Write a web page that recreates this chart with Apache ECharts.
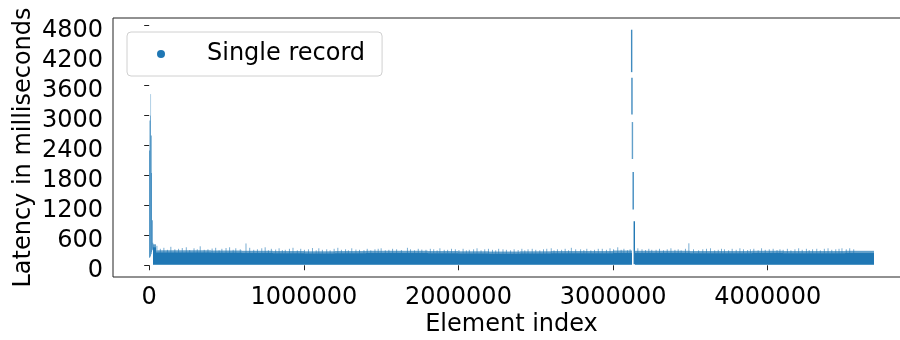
<!DOCTYPE html>
<html>
<head>
<meta charset="utf-8">
<script src="https://cdn.jsdelivr.net/npm/echarts@6/dist/echarts.min.js"></script>
<style>
  html, body { margin: 0; padding: 0; background: #ffffff; }
  #chart { width: 900px; height: 340px; }
</style>
</head>
<body>
<div id="chart"></div>
<script>
// Tick labels
const xTicks = [0, 1000000, 2000000, 3000000, 4000000];
const yTicks = [0, 600, 1200, 1800, 2400, 3000, 3600, 4200, 4800];

// Warm-up burst at the very start of the run (element index ranges, latency range in ms)
const warmStart = [0, 3000, 7000, 11000, 14000, 18000, 22000];
const warmEnd   = [3000, 7000, 11000, 14000, 18000, 22000, 26000];
const warmLow   = [150, 160, 180, 220, 260, 300, 330];
const warmHigh  = [2300, 2900, 3000, 2600, 1850, 900, 450];

// Sparse slow records above the warm-up peak
const warmSparseX    = [9000];
const warmSparseLow  = [3000];
const warmSparseHigh = [3430];

// Steady-state body of single-record latencies (dense part)
const bandStart = [26000, 45000, 200000, 400000, 600000, 800000, 1000000, 1200000, 1400000, 1600000, 1800000, 2000000, 2200000, 2400000, 2600000, 2800000, 3000000, 3144000, 3300000, 3500000, 3700000, 3900000, 4100000, 4300000, 4500000];
const bandEnd   = [45000, 200000, 400000, 600000, 800000, 1000000, 1200000, 1400000, 1600000, 1800000, 2000000, 2200000, 2400000, 2600000, 2800000, 3000000, 3122000, 3300000, 3500000, 3700000, 3900000, 4100000, 4300000, 4500000, 4686000];
const bandLow   = [20, 20, 20, 20, 20, 20, 20, 20, 20, 20, 20, 20, 20, 20, 20, 20, 20, 20, 20, 20, 20, 20, 20, 20, 20];
const bandHigh  = [360, 255, 255, 250, 245, 240, 235, 240, 245, 245, 240, 235, 230, 235, 240, 240, 245, 245, 245, 240, 240, 245, 240, 240, 245];
// Thinner scatter just above/below the dense body
const hazeHigh  = [420, 300, 300, 295, 290, 285, 280, 285, 290, 290, 285, 280, 275, 280, 285, 285, 295, 290, 290, 285, 285, 290, 285, 285, 290];
const hazeLow   = [5, 5, 5, 5, 5, 5, 5, 5, 5, 5, 5, 5, 5, 5, 5, 5, 5, 5, 5, 5, 5, 5, 5, 5, 5];

// Occasional slow records sticking out of the body: index, base and peak latency
const fringeX = [50000, 72000, 95000, 118000, 140000, 166000, 190000, 214000, 240000, 262000, 290000, 311000, 330000, 356000, 380000, 407000, 430000, 452000, 470000, 497000, 520000, 543000, 560000, 589000, 626000, 650000, 676000, 700000, 728000, 750000, 771000, 790000, 818000, 840000, 861000, 880000, 907000, 930000, 958000, 980000, 1004000, 1030000, 1056000, 1080000, 1097000, 1120000, 1148000, 1170000, 1196000, 1220000, 1243000, 1270000, 1288000, 1310000, 1337000, 1360000, 1389000, 1410000, 1433000, 1460000, 1481000, 1500000, 1527000, 1550000, 1574000, 1600000, 1631000, 1670000, 1690000, 1716000, 1740000, 1763000, 1790000, 1818000, 1840000, 1862000, 1880000, 1908000, 1930000, 1955000, 1980000, 2003000, 2030000, 2051000, 2070000, 2098000, 2120000, 2146000, 2170000, 2194000, 2220000, 2241000, 2260000, 2288000, 2310000, 2337000, 2360000, 2386000, 2410000, 2429000, 2450000, 2477000, 2500000, 2526000, 2550000, 2571000, 2600000, 2618000, 2640000, 2667000, 2690000, 2712000, 2730000, 2758000, 2790000, 2811000, 2830000, 2856000, 2880000, 2904000, 2930000, 2957000, 2980000, 3003000, 3030000, 3052000, 3070000, 3093000, 3110000, 3160000, 3187000, 3210000, 3231000, 3250000, 3278000, 3300000, 3326000, 3350000, 3374000, 3400000, 3421000, 3440000, 3468000, 3490000, 3520000, 3553000, 3580000, 3604000, 3630000, 3657000, 3680000, 3701000, 3720000, 3747000, 3770000, 3796000, 3820000, 3843000, 3870000, 3888000, 3910000, 3938000, 3960000, 3984000, 4010000, 4035000, 4060000, 4079000, 4100000, 4127000, 4150000, 4176000, 4200000, 4223000, 4250000, 4268000, 4290000, 4317000, 4340000, 4366000, 4390000, 4414000, 4440000, 4461000, 4480000, 4508000, 4530000, 4556000, 4580000, 4603000, 4640000, 4670000];
const fringeLow = [300, 250, 255, 250, 250, 245, 250, 250, 245, 250, 250, 245, 250, 245, 245, 245, 245, 245, 240, 245, 240, 245, 240, 240, 240, 240, 240, 240, 235, 235, 235, 235, 235, 235, 235, 235, 235, 230, 230, 230, 230, 230, 230, 230, 230, 230, 230, 230, 230, 230, 230, 230, 230, 235, 235, 235, 235, 235, 235, 235, 235, 235, 235, 235, 240, 240, 240, 240, 240, 240, 240, 240, 240, 240, 240, 240, 240, 240, 240, 240, 240, 235, 235, 235, 235, 235, 235, 235, 235, 235, 235, 230, 230, 230, 230, 230, 225, 225, 225, 225, 225, 225, 230, 230, 230, 230, 230, 230, 230, 230, 235, 235, 235, 235, 235, 235, 235, 235, 235, 235, 235, 235, 235, 235, 240, 240, 240, 240, 240, 240, 240, 240, 240, 240, 240, 240, 240, 240, 240, 240, 240, 240, 240, 240, 240, 240, 240, 235, 235, 235, 235, 235, 235, 235, 235, 235, 235, 235, 235, 235, 235, 235, 235, 235, 240, 240, 240, 240, 240, 240, 240, 240, 240, 235, 235, 235, 235, 235, 235, 235, 235, 235, 235, 235, 235, 240, 240, 240, 240, 240, 240, 240];
const fringeY = [390, 330, 350, 310, 370, 320, 330, 345, 360, 305, 340, 320, 380, 310, 320, 335, 350, 300, 330, 345, 360, 310, 340, 320, 437, 350, 310, 320, 340, 360, 300, 330, 315, 340, 305, 310, 330, 350, 300, 330, 310, 320, 345, 300, 340, 310, 320, 300, 330, 350, 310, 320, 300, 340, 315, 310, 305, 330, 300, 320, 330, 340, 300, 310, 330, 320, 305, 350, 320, 300, 330, 315, 310, 330, 320, 300, 340, 310, 310, 330, 320, 305, 330, 300, 310, 320, 340, 300, 320, 330, 310, 300, 330, 320, 310, 300, 320, 305, 330, 300, 320, 330, 310, 300, 320, 330, 340, 300, 320, 310, 330, 300, 350, 320, 320, 305, 330, 300, 310, 330, 330, 310, 340, 320, 360, 310, 330, 300, 320, 340, 320, 305, 330, 310, 310, 330, 300, 320, 340, 310, 320, 300, 330, 440, 320, 300, 320, 330, 340, 300, 310, 330, 320, 300, 330, 310, 340, 320, 305, 320, 330, 300, 340, 310, 320, 330, 305, 320, 310, 330, 300, 320, 340, 310, 330, 305, 320, 330, 300, 330, 340, 310, 320, 330, 340, 320, 340, 320];

// Stall around element 3.13M: latency climbs to ~4.7 s and drains back
const stallX    = [3120000, 3122000, 3125000, 3130000, 3137000];
const stallLow  = [3870, 3020, 2130, 1120, 20];
const stallHigh = [4720, 3760, 2870, 1870, 880];
const stallAlpha = [0.85, 0.85, 0.7, 0.85, 1.0];

const BLUE = '#1f77b4';
const FONT = 'DejaVu Sans';

function rows() {
  const cols = Array.prototype.slice.call(arguments);
  return cols[0].map((_, i) => cols.map(c => c[i]));
}

function rectRenderer(opacity, snap) {
  return function (params, api) {
    const p0 = api.coord([api.value(0), api.value(3)]);
    const p1 = api.coord([api.value(1), api.value(2)]);
    let x0 = p0[0], x1 = p1[0];
    if (snap) { x0 = Math.round(x0); x1 = Math.round(x1); }
    return {
      type: 'rect',
      shape: { x: x0, y: p0[1], width: Math.max(x1 - x0, 0.6), height: p1[1] - p0[1] },
      style: { fill: BLUE, opacity: opacity }
    };
  };
}

function lineRenderer(width, opacity) {
  return function (params, api) {
    const a = api.coord([api.value(0), api.value(1)]);
    const b = api.coord([api.value(0), api.value(2)]);
    const op = api.value(3);
    return {
      type: 'line',
      shape: { x1: a[0], y1: a[1], x2: b[0], y2: b[1] },
      style: { stroke: BLUE, lineWidth: width, opacity: isNaN(op) ? opacity : op }
    };
  };
}

const NAME = 'Single record';
const common = { name: NAME, type: 'custom', itemStyle: { color: BLUE }, silent: true };
const labelText = { fontFamily: FONT, fontSize: 24, color: '#000000' };

const option = {
  animation: false,
  backgroundColor: '#ffffff',
  grid: {
    left: 113, top: 18, width: 797, height: 259,
    outerBoundsMode: 'none', containLabel: false,
    show: true, borderColor: '#222222', borderWidth: 1, backgroundColor: 'transparent'
  },
  legend: {
    data: [{ name: NAME, icon: 'circle' }],
    left: 127, top: 32,
    padding: [10, 17, 10, 30],
    itemWidth: 8, itemHeight: 8,
    backgroundColor: '#ffffff',
    borderColor: '#d0d0d0', borderWidth: 1, borderRadius: 4,
    textStyle: { fontFamily: FONT, fontSize: 24, color: '#000000', padding: [0, 0, 0, 37] }
  },
  xAxis: {
    type: 'value',
    min: -234000, max: 4920000,
    name: 'Element index',
    nameLocation: 'middle', nameGap: 36, nameMoveOverlap: false,
    nameTextStyle: labelText,
    axisLine: { show: false },
    axisTick: { show: true, length: 5, lineStyle: { color: '#222222' }, customValues: xTicks },
    axisLabel: Object.assign({ margin: 9, customValues: xTicks, formatter: v => String(v) }, labelText),
    splitLine: { show: false }
  },
  yAxis: {
    type: 'value',
    min: -235, max: 4955,
    name: 'Latency in milliseconds',
    nameLocation: 'middle', nameGap: 77, nameMoveOverlap: false,
    nameTextStyle: labelText,
    axisLine: { show: false },
    axisTick: { show: true, length: 5, lineStyle: { color: '#222222' }, customValues: yTicks },
    axisLabel: Object.assign({
      margin: 10, customValues: yTicks,
      verticalAlign: 'top', lineHeight: 10,
      formatter: v => String(v)
    }, labelText),
    splitLine: { show: false }
  },
  series: [
    Object.assign({}, common, {
      renderItem: rectRenderer(0.7, true),
      encode: { x: [0, 1], y: [2, 3] },
      data: rows(bandStart, bandEnd, hazeLow, hazeHigh)
    }),
    Object.assign({}, common, {
      renderItem: lineRenderer(1, 0.6),
      encode: { x: 0, y: [1, 2] },
      data: rows(fringeX, fringeLow, fringeY)
    }),
    Object.assign({}, common, {
      renderItem: rectRenderer(1, true),
      encode: { x: [0, 1], y: [2, 3] },
      data: rows(bandStart, bandEnd, bandLow, bandHigh)
    }),
    Object.assign({}, common, {
      renderItem: rectRenderer(1, false),
      encode: { x: [0, 1], y: [2, 3] },
      data: rows(warmStart, warmEnd, warmLow, warmHigh)
    }),
    Object.assign({}, common, {
      renderItem: lineRenderer(1, 0.35),
      encode: { x: 0, y: [1, 2] },
      data: rows(warmSparseX, warmSparseLow, warmSparseHigh)
    }),
    Object.assign({}, common, {
      renderItem: lineRenderer(1.4, 1),
      encode: { x: 0, y: [1, 2] },
      data: rows(stallX, stallLow, stallHigh, stallAlpha)
    })
  ]
};

const chart = echarts.init(document.getElementById('chart'), null, { renderer: 'canvas' });
chart.setOption(option);
</script>
</body>
</html>
